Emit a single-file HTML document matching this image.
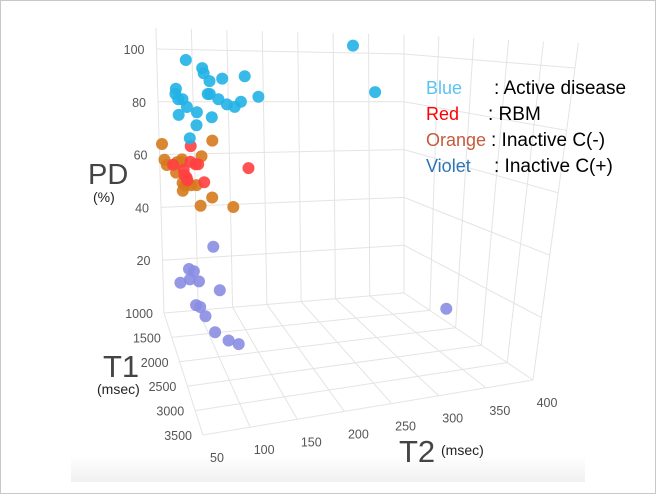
<!DOCTYPE html>
<html><head><meta charset="utf-8"><style>
html,body{margin:0;padding:0;background:#fff;}
#wrap{position:relative;width:656px;height:494px;overflow:hidden;}
svg text{font-family:"Liberation Sans",sans-serif;}
</style></head><body>
<div id="wrap">
<svg id="chart" width="656" height="494" viewBox="0 0 656 494">
<defs><linearGradient id="bg" x1="0" y1="0" x2="0" y2="1"><stop offset="0" stop-color="#ffffff"/><stop offset="1" stop-color="#f0f0f0"/></linearGradient></defs>
<rect x="0.5" y="0.5" width="655" height="493" fill="#fff" stroke="#c8c8c8"/>
<rect x="71" y="455" width="514" height="27" fill="url(#bg)"/>
<g id="grid"></g>
<g id="ticks"></g>
<g id="pts"></g>
<text x="88" y="184" font-size="29" fill="#444">PD</text>
<text x="93" y="202" font-size="14" fill="#222">(%)</text>
<text x="103" y="377" font-size="31" fill="#444">T1</text>
<text x="97" y="394" font-size="14" fill="#222">(msec)</text>
<text x="399" y="462" font-size="31" fill="#444">T2</text>
<text x="441" y="455" font-size="14" fill="#222">(msec)</text>
<g font-size="18">
<text x="426" y="94" fill="#5bc2f2">Blue</text>
<text x="494" y="94" fill="#000" font-size="19">:  Active disease</text>
<text x="426" y="120" fill="#ff0000">Red</text>
<text x="488" y="120" fill="#000" font-size="19">: RBM</text>
<text x="426" y="146" fill="#c55a3c">Orange</text>
<text x="491" y="146" fill="#000" font-size="19">: Inactive C(-)</text>
<text x="426" y="172" fill="#2e75b6">Violet</text>
<text x="494" y="172" fill="#000" font-size="19">: Inactive C(+)</text>
</g>
</svg>
</div>
<script>
const t2Ticks=[50,100,150,200,250,300,350,400];
const t1Ticks=[1000,1500,2000,2500,3000,3500];
const pdTicks=[20,40,60,80,100];
const blueT2=[91,114,116,124,142,174,76,75,79,85,121,124,136,148,159,168,193,91,105,79,104,126,94,328,359];
const blueT1=[1000,1000,1000,1000,1000,1000,1000,1000,1000,1000,1000,1000,1000,1000,1000,1000,1000,1000,1000,1000,1000,1000,1000,1000,1000];
const bluePD=[96,93,91,88,89,90,85,83,81,81,83,83,81,79,78,80,82,78,76,75,71,74,66,103,84];
const redT2=[95,69,94,101,105,84,85,88,89,113,177];
const redT1=[1000,1000,1000,1000,1000,1000,1000,1000,1000,1000,1000];
const redPD=[63,56,57,56,56,54,52,51,50,49,54];
const orangeT2=[54,57,60,75,82,81,110,126,73,82,85,94,102,82,124,107,154];
const orangeT1=[1000,1000,1000,1000,1000,1000,1000,1000,1000,1000,1000,1000,1000,1000,1000,1000,1000];
const orangePD=[64,58,56,57,58,57,59,65,53,49,48,48,48,46,43,40,39];
const violetT2=[124,88,95,89,102,75,132,97,100,103,106,118,128,380];
const violetT1=[1000,1000,1000,1000,1000,1000,1000,1000,1100,1250,1600,1800,1900,2100];
const violetPD=[24,16,15,12,11,11,7,2,3,2,2,2,2,9];

const C={BL:[164,313,-0.075,-2.64],BR:[404,293,0,-2.39],FL:[203,435,-0.1,-3.1],FR:[533,380,0.42,-3.12]};
function proj(t2,t1,pd){
  const u=(t2-50)/350, v=(t1-1000)/2500;
  const w=[(1-u)*(1-v),u*(1-v),(1-u)*v,u*v];
  const k=[C.BL,C.BR,C.FL,C.FR];
  let x=0,y=0;
  for(let i=0;i<4;i++){x+=w[i]*(k[i][0]+k[i][2]*pd);y+=w[i]*(k[i][1]+k[i][3]*pd);}
  return [x,y];
}
const NS='http://www.w3.org/2000/svg';
const grid=document.getElementById('grid'),ticks=document.getElementById('ticks'),pts=document.getElementById('pts');
function line(a,b,name){
  const l=document.createElementNS(NS,'line');
  l.setAttribute('x1',a[0]);l.setAttribute('y1',a[1]);l.setAttribute('x2',b[0]);l.setAttribute('y2',b[1]);
  l.setAttribute('stroke','#e4e4e4');l.setAttribute('stroke-width','1');
  
  
  grid.appendChild(l);
}
const PDMAX=108;
t2Ticks.forEach(t=>line(proj(t,1000,0),proj(t,1000,PDMAX),'back-wall-t2-line'));
pdTicks.forEach(p=>line(proj(50,1000,p),proj(400,1000,p),'back-wall-pd-line'));
t1Ticks.forEach(t=>line(proj(400,t,0),proj(400,t,PDMAX),'right-wall-t1-line'));
pdTicks.forEach(p=>line(proj(400,1000,p),proj(400,3500,p),'right-wall-pd-line'));
t2Ticks.forEach(t=>line(proj(t,1000,0),proj(t,3500,0),'floor-t2-line'));
t1Ticks.forEach(t=>line(proj(50,t,0),proj(400,t,0),'floor-t1-line'));
function label(x,y,txt,anchor,name){
  const e=document.createElementNS(NS,'text');
  e.setAttribute('x',x);e.setAttribute('y',y);e.setAttribute('text-anchor',anchor);
  e.setAttribute('font-size','12.5');e.setAttribute('fill','#555');
  e.textContent=txt;
  
  
  ticks.appendChild(e);
}
pdTicks.forEach(p=>{const q=proj(50,1000,p);label(q[0]-12,q[1]+5,String(p),'end','pd-tick-label');});
t1Ticks.forEach(t=>{const q=proj(50,t,0);label(q[0]-11,q[1]+5,String(t),'end','t1-tick-label');});
t2Ticks.forEach(t=>{const q=proj(t,3500,0);label(q[0]+14,q[1]+27,String(t),'middle','t2-tick-label');});
function series(T2,T1,PD,color,name){
  for(let i=0;i<T2.length;i++){
    const q=proj(T2[i],T1[i],PD[i]);
    const c=document.createElementNS(NS,'circle');
    c.setAttribute('cx',q[0].toFixed(1));c.setAttribute('cy',q[1].toFixed(1));c.setAttribute('r','6');
    c.setAttribute('fill',color);c.setAttribute('fill-opacity','0.9');
    
    
    pts.appendChild(c);
  }
}
series(violetT2,violetT1,violetPD,'#8a8de2','point-violet');
series(orangeT2,orangeT1,orangePD,'#d57a1c','point-orange');
series(redT2,redT1,redPD,'#ff4040','point-red');
series(blueT2,blueT1,bluePD,'#22b2e6','point-blue');
</script>
</body></html>
